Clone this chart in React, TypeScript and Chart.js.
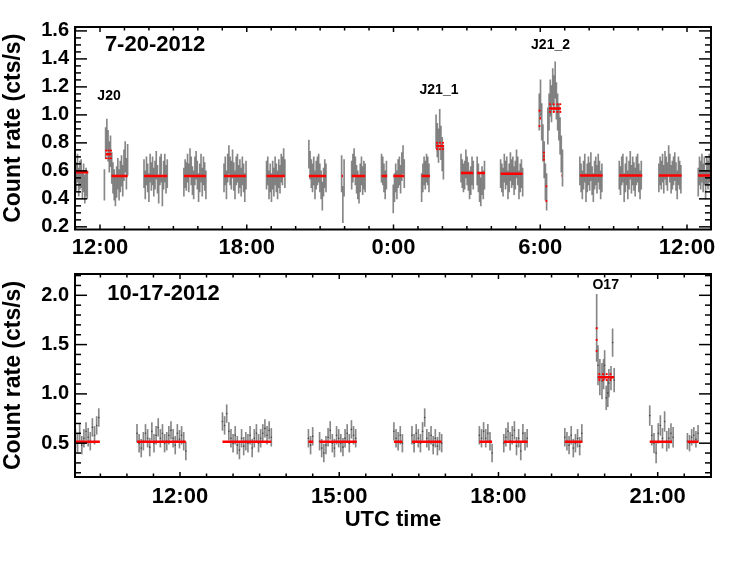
import React, { useEffect, useRef } from "react";
import { Chart, registerables } from "chart.js";

Chart.register(...registerables);

const FONT = "'Liberation Sans', Arial, Helvetica, sans-serif";

// ---------------- Axis ticks ----------------
const topXMajor = [12, 18, 24, 30, 36];
const topXLabels = ["12:00", "18:00", "0:00", "6:00", "12:00"];
const topXMinor = [11, 13, 14, 15, 16, 17, 19, 20, 21, 22, 23, 25, 26, 27, 28, 29, 31, 32, 33, 34, 35];
const topYMajor = [0.2, 0.4, 0.6, 0.8, 1.0, 1.2, 1.4, 1.6];
const topYMinor = [0.25, 0.3, 0.35, 0.45, 0.5, 0.55, 0.65, 0.7, 0.75, 0.85, 0.9, 0.95, 1.05, 1.1, 1.15, 1.25, 1.3, 1.35, 1.45, 1.5, 1.55];

const botXMajor = [12, 15, 18, 21];
const botXLabels = ["12:00", "15:00", "18:00", "21:00"];
const botXMinor = [10.5, 11, 11.5, 12.5, 13, 13.5, 14, 14.5, 15.5, 16, 16.5, 17, 17.5, 18.5, 19, 19.5, 20, 20.5, 21.5];
const botYMajor = [0.5, 1.0, 1.5, 2.0];
const botYMinor = [0.2, 0.3, 0.4, 0.6, 0.7, 0.8, 0.9, 1.1, 1.2, 1.3, 1.4, 1.6, 1.7, 1.8, 1.9, 2.1, 2.2];

// ---------------- Top panel (7-20-2012), 3-min bins, hours since 0:00 on 7-20 ----------------
const TOP_BIN = 0.05;
const topS1 = [0.60, 0.56, 0.62, 0.52, 0.57, 0.58, 0.50, 0.55, 0.47, 0.52, 0.50];
const topS2 = [0.50, 0.80, 0.86, 0.78, 0.70, 0.74, 0.62, 0.55, 0.50, 0.46, 0.52, 0.58, 0.50, 0.56, 0.60, 0.53, 0.64, 0.70, 0.58, 0.68];
const topS3 = [0.58, 0.50, 0.60, 0.55, 0.48, 0.62, 0.56, 0.60, 0.52, 0.57, 0.64, 0.54, 0.47, 0.60, 0.62, 0.45, 0.57, 0.62, 0.54, 0.58];
const topS4 = [0.52, 0.58, 0.56, 0.62, 0.55, 0.66, 0.60, 0.53, 0.50, 0.60, 0.64, 0.57, 0.48, 0.55, 0.62, 0.52, 0.60, 0.56, 0.50];
const topS5 = [0.55, 0.60, 0.50, 0.62, 0.68, 0.60, 0.57, 0.65, 0.56, 0.50, 0.60, 0.62, 0.54, 0.58, 0.52, 0.60, 0.55, 0.48, 0.57];
const topS6 = [0.57, 0.60, 0.50, 0.55, 0.48, 0.57, 0.52, 0.60, 0.55, 0.50, 0.58, 0.54, 0.62, 0.60, 0.66, 0.58];
const topS7 = [0.72, 0.64, 0.58, 0.55, 0.60, 0.50, 0.57, 0.60, 0.62, 0.55, 0.50, 0.42, 0.52, 0.58, 0.55];
const topS8a = [0.58, 0.36, 0.55];
const topS8b = [0.57, 0.62, 0.66, 0.60, 0.54, 0.50, 0.47, 0.55, 0.60, 0.53, 0.57, 0.55];
const topS9a = [0.62, 0.60, 0.55, 0.50, 0.57];
const topS9b = [0.40, 0.48, 0.55, 0.50, 0.58, 0.60, 0.54, 0.63, 0.68, 0.58];
const topS10 = [0.48, 0.55, 0.60, 0.57, 0.62, 0.60, 0.55];
const topS11 = [0.88, 0.82, 0.78, 0.92, 0.80, 0.72, 0.66];
const topS12 = [0.62, 0.58, 0.55, 0.57, 0.65, 0.60, 0.56, 0.50, 0.53, 0.60, 0.57];
const topS13 = [0.60, 0.55, 0.48, 0.45, 0.53, 0.50, 0.57];
const topS14 = [0.58, 0.55, 0.52, 0.62, 0.57, 0.60, 0.50, 0.55, 0.63, 0.58, 0.60, 0.53, 0.57, 0.65, 0.60, 0.50, 0.55, 0.58, 0.52];
const topS15 = [1.02, 1.12, 0.95, 0.80, 0.68, 0.52, 0.45, 0.92, 1.02, 1.12, 1.08, 1.20, 1.15, 1.25, 1.10, 1.02, 0.95, 0.85, 0.72, 0.62];
const topS16 = [0.60, 0.55, 0.50, 0.57, 0.62, 0.48, 0.55, 0.60, 0.56, 0.63, 0.53, 0.48, 0.57, 0.60, 0.54, 0.62, 0.57, 0.50, 0.55];
const topS17 = [0.57, 0.53, 0.60, 0.62, 0.48, 0.55, 0.60, 0.50, 0.57, 0.64, 0.54, 0.60, 0.56, 0.52, 0.60, 0.62, 0.55, 0.50, 0.57];
const topS18 = [0.55, 0.60, 0.57, 0.62, 0.54, 0.64, 0.60, 0.56, 0.68, 0.62, 0.54, 0.57, 0.60, 0.63, 0.56, 0.50, 0.60, 0.57, 0.54];
const topS19 = [0.52, 0.60, 0.57, 0.62, 0.55, 0.60, 0.50, 0.60, 0.57, 0.62, 0.55];

// [start hour, values, error half-width]
const topSegments: [number, number[], number][] = [
  [10.98, topS1, 0.1], [12.18, topS2, 0.11], [13.8, topS3, 0.1], [15.43, topS4, 0.1],
  [17.07, topS5, 0.1], [18.81, topS6, 0.1], [20.54, topS7, 0.1], [21.88, topS8a, 0.13],
  [22.29, topS8b, 0.1], [23.51, topS9a, 0.1], [23.99, topS9b, 0.1], [25.15, topS10, 0.1],
  [25.74, topS11, 0.12], [26.76, topS12, 0.1], [27.42, topS13, 0.1], [28.38, topS14, 0.1],
  [29.96, topS15, 0.13], [31.62, topS16, 0.1], [33.23, topS17, 0.1], [34.85, topS18, 0.1],
  [36.46, topS19, 0.1],
];

// red block levels: [start, end, level]
const topBlocks: [number, number, number][] = [
  [10.98, 11.52, 0.59], [12.23, 12.47, 0.718], [12.47, 13.13, 0.563], [13.8, 14.75, 0.563],
  [15.43, 16.33, 0.563], [17.07, 17.97, 0.563], [18.81, 19.56, 0.563], [20.54, 21.24, 0.563],
  [21.88, 21.93, 0.563], [22.29, 22.84, 0.563], [23.51, 23.74, 0.563], [23.99, 24.44, 0.563],
  [25.15, 25.49, 0.563], [25.74, 26.06, 0.778], [26.76, 27.26, 0.584], [27.42, 27.74, 0.584],
  [28.38, 29.28, 0.58], [29.97, 30.03, 0.976], [30.12, 30.18, 0.704], [30.24, 30.27, 0.437],
  [30.36, 30.85, 1.045], [30.87, 30.89, 0.567], [31.62, 32.55, 0.567], [33.23, 34.17, 0.567],
  [34.85, 35.78, 0.567], [36.46, 36.98, 0.567],
];
const topBlockErrX = [12.25, 12.35, 12.45, 12.25, 12.35, 12.45, 25.78, 25.9, 26.02, 25.78, 25.9, 26.02, 29.97, 29.97, 30.15, 30.15, 30.25, 30.25, 30.4, 30.55, 30.7, 30.82, 30.4, 30.55, 30.7, 30.82];
const topBlockErrY = [0.745, 0.745, 0.745, 0.69, 0.69, 0.69, 0.80, 0.80, 0.80, 0.755, 0.755, 0.755, 1.03, 0.92, 0.73, 0.68, 0.49, 0.384, 1.076, 1.076, 1.076, 1.076, 1.021, 1.021, 1.021, 1.021];

// ---------------- Bottom panel (10-17-2012), 2.4-min bins ----------------
const BOT_BIN = 0.04;
const botB1 = [0.55, 0.50, 0.60, 0.48, 0.55, 0.62, 0.56, 0.52, 0.66, 0.58, 0.68, 0.76];
const botB2 = [0.60, 0.50, 0.45, 0.52, 0.60, 0.55, 0.46, 0.62, 0.50, 0.58, 0.66, 0.55, 0.60, 0.50, 0.52, 0.58, 0.63, 0.55, 0.48, 0.60, 0.54, 0.58, 0.52, 0.42];
const botB3 = [0.72, 0.68, 0.80, 0.62, 0.55, 0.50, 0.58, 0.48, 0.43, 0.55, 0.47, 0.52, 0.50, 0.58, 0.45, 0.55, 0.60, 0.50, 0.55, 0.60, 0.65, 0.58, 0.63, 0.56];
const botB4a = [0.55, 0.48, 0.57];
const botB4b = [0.52, 0.45, 0.40, 0.48, 0.56, 0.63, 0.50, 0.45, 0.58, 0.55, 0.50, 0.46, 0.55, 0.60, 0.50, 0.64, 0.58, 0.55];
const botB5a = [0.62, 0.55, 0.52, 0.58, 0.50];
const botB5b = [0.58, 0.50, 0.60, 0.55, 0.50, 0.62, 0.76, 0.55, 0.52, 0.58, 0.48, 0.55, 0.47, 0.52, 0.50];
const botB6a = [0.58, 0.55, 0.62, 0.55, 0.60, 0.52, 0.40];
const botB6b = [0.50, 0.56, 0.62, 0.52, 0.58, 0.63, 0.47, 0.55, 0.42, 0.60, 0.52, 0.55];
const botB7 = [0.56, 0.52, 0.48, 0.58, 0.45, 0.50, 0.55, 0.47, 0.60];
const botB9 = [0.78, 0.58, 0.50, 0.40, 0.60, 0.68, 0.55, 0.72, 0.52, 0.55, 0.60, 0.56];
const botB10 = [0.52, 0.50, 0.56, 0.58, 0.54, 0.60];
// O17 flare, individual bins
const flareT = [19.85, 19.875, 19.91, 19.95, 19.98, 20.0, 20.03, 20.06, 20.08, 20.12, 20.15, 20.18];
const flareV = [1.67, 1.29, 1.17, 1.13, 1.20, 1.29, 0.96, 1.01, 1.11, 1.16, 1.52, 1.14];
const flareE = [0.34, 0.20, 0.18, 0.18, 0.15, 0.15, 0.12, 0.14, 0.14, 0.12, 0.14, 0.12];

const botSegments: [number, number[], number][] = [
  [10.03, botB1, 0.09], [11.19, botB2, 0.09], [12.8, botB3, 0.09], [14.42, botB4a, 0.09],
  [14.63, botB4b, 0.09], [16.03, botB5a, 0.09], [16.37, botB5b, 0.09], [17.64, botB6a, 0.09],
  [18.1, botB6b, 0.09], [19.25, botB7, 0.09], [20.85, botB9, 0.1], [21.56, botB10, 0.08],
];
const botBlocks: [number, number, number][] = [
  [10.02, 10.49, 0.515], [11.19, 12.11, 0.515], [12.8, 13.72, 0.515], [14.42, 14.51, 0.515],
  [14.63, 15.33, 0.515], [16.03, 16.19, 0.515], [16.37, 16.93, 0.515], [17.64, 17.88, 0.515],
  [18.1, 18.55, 0.515], [19.25, 19.58, 0.515], [19.87, 20.18, 1.168], [20.85, 21.27, 0.515],
  [21.56, 21.77, 0.515],
];
const botBlockErrX = [19.85, 19.85, 19.85, 19.9, 19.97, 20.04, 20.11, 19.9, 19.97, 20.04, 20.11];
const botBlockErrY = [1.665, 1.547, 1.435, 1.2, 1.2, 1.2, 1.2, 1.14, 1.14, 1.14, 1.14];

// ---------------- helpers ----------------
type Pt = { x: number; y: any };
function barsFromSegments(segs: [number, number[], number][], bin: number): Pt[] {
  const out: Pt[] = [];
  segs.forEach(([start, vals, err]) => vals.forEach((v, i) => out.push({ x: start + i * bin, y: [v - err, v + err] })));
  return out;
}
function centersFromSegments(segs: [number, number[], number][], bin: number): Pt[] {
  const out: Pt[] = [];
  segs.forEach(([start, vals]) => vals.forEach((v, i) => out.push({ x: start + i * bin, y: v })));
  return out;
}
function blockLine(blocks: [number, number, number][]): Pt[] {
  const out: Pt[] = [];
  blocks.forEach(([a, b, v]) => {
    out.push({ x: a, y: v }, { x: b, y: v }, { x: b, y: null });
  });
  return out;
}
function pairs(xs: number[], ys: number[]): Pt[] {
  return xs.map((x, i) => ({ x, y: ys[i] }));
}

const framePlugin = {
  id: "frame",
  afterDraw(chart: any, _args: any, o: any) {
    const { ctx, chartArea: a, scales } = chart;
    const xs = scales.x, ys = scales.y;
    ctx.save();
    ctx.strokeStyle = "#000";
    ctx.lineWidth = 1.5;
    const ln = (x1: number, y1: number, x2: number, y2: number) => {
      ctx.beginPath(); ctx.moveTo(x1, y1); ctx.lineTo(x2, y2); ctx.stroke();
    };
    const xt = (vals: number[], len: number) => vals.forEach((v) => {
      const p = xs.getPixelForValue(v);
      ln(p, a.bottom, p, a.bottom - len); ln(p, a.top, p, a.top + len);
    });
    const yt = (vals: number[], len: number) => vals.forEach((v) => {
      const p = ys.getPixelForValue(v);
      ln(a.left, p, a.left + len, p); ln(a.right, p, a.right - len, p);
    });
    xt(o.xMajor, 5); xt(o.xMinor, 3.5);
    yt(o.yMajor, 12); yt(o.yMinor, 6);
    ctx.lineWidth = 2;
    ctx.strokeRect(a.left, a.top, a.right - a.left, a.bottom - a.top);
    ctx.fillStyle = "#000";
    ctx.textBaseline = "middle";
    (o.texts || []).forEach((t: any) => {
      ctx.font = `bold ${t.size}px ${FONT}`;
      ctx.textAlign = t.align;
      ctx.fillText(t.text, xs.getPixelForValue(t.x), ys.getPixelForValue(t.y));
    });
    ctx.restore();
  },
};

function makeConfig(p: any) {
  return {
    type: "bar",
    data: {
      datasets: [
        { type: "bar", data: p.bars, backgroundColor: "rgba(105,105,105,0.8)", barThickness: 1, grouped: false, borderWidth: 0, order: 4 },
        { type: "line", data: p.centers, showLine: false, pointRadius: p.dotR, pointBackgroundColor: "#444", pointBorderWidth: 0, order: 3 },
        { type: "line", data: p.blocks, borderColor: "#ff0000", borderWidth: 2.5, pointRadius: 0, spanGaps: false, order: 2 },
        { type: "line", data: p.blockErr, showLine: false, pointRadius: 1.1, pointBackgroundColor: "#ff0000", pointBorderWidth: 0, order: 1 },
      ],
    },
    options: {
      animation: false,
      responsive: false,
      events: [],
      layout: { padding: { left: 0, right: 36, top: p.padTop, bottom: 0 } },
      plugins: {
        legend: { display: false },
        tooltip: { enabled: false },
        frame: { xMajor: p.xMajor, xMinor: p.xMinor, yMajor: p.yMajor, yMinor: p.yMinor, texts: p.texts },
      },
      scales: {
        x: {
          type: "linear", min: p.xMin, max: p.xMax, offset: false,
          grid: { display: false, drawTicks: false }, border: { display: false },
          afterBuildTicks: (s: any) => { s.ticks = p.xMajor.map((v: number) => ({ value: v })); },
          afterFit: (s: any) => { s.height = p.xHeight; },
          ticks: {
            callback: (v: any) => p.xLabels[p.xMajor.indexOf(Number(v))],
            font: { family: FONT, size: 22, weight: "bold" }, color: "#000",
            padding: p.xPad, maxRotation: 0, autoSkip: false,
          },
          title: p.xTitle
            ? { display: true, text: p.xTitle, color: "#000", font: { family: FONT, size: 22, weight: "bold" }, padding: { top: 0, bottom: 28 } }
            : { display: false },
        },
        y: {
          type: "linear", min: p.yMin, max: p.yMax,
          grid: { display: false, drawTicks: false }, border: { display: false },
          afterBuildTicks: (s: any) => { s.ticks = p.yMajor.map((v: number) => ({ value: v })); },
          afterFit: (s: any) => { s.width = 75; },
          ticks: {
            callback: (v: any) => Number(v).toFixed(1),
            font: { family: FONT, size: 20, weight: "bold" }, color: "#000", padding: 6, autoSkip: false,
          },
          title: { display: true, text: "Count rate (cts/s)", color: "#000", font: { family: FONT, size: 23, weight: "bold" }, padding: { top: 0, bottom: 0 } },
        },
      },
    },
    plugins: [framePlugin],
  };
}

export default function App() {
  const topRef = useRef<HTMLCanvasElement>(null);
  const botRef = useRef<HTMLCanvasElement>(null);

  useEffect(() => {
    const top = new Chart(topRef.current as any, makeConfig({
      bars: barsFromSegments(topSegments, TOP_BIN),
      centers: centersFromSegments(topSegments, TOP_BIN),
      blocks: blockLine(topBlocks),
      blockErr: pairs(topBlockErrX, topBlockErrY),
      xMajor: topXMajor, xMinor: topXMinor, xLabels: topXLabels,
      yMajor: topYMajor, yMinor: topYMinor,
      xMin: 10.978, xMax: 36.981, yMin: 0.181, yMax: 1.628,
      padTop: 27, xHeight: 35.5, xPad: 5, dotR: 0,
      texts: [
        { text: "7-20-2012", x: 12.2, y: 1.499, size: 22, align: "left" },
        { text: "J20", x: 12.37, y: 1.134, size: 14, align: "center" },
        { text: "J21_1", x: 25.86, y: 1.177, size: 14, align: "center" },
        { text: "J21_2", x: 30.42, y: 1.499, size: 14, align: "center" },
      ],
    }) as any);

    const flareBars = flareT.map((t, i) => ({ x: t, y: [flareV[i] - flareE[i], flareV[i] + flareE[i]] }));
    const flareCenters = pairs(flareT, flareV);
    const bot = new Chart(botRef.current as any, makeConfig({
      bars: barsFromSegments(botSegments, BOT_BIN).concat(flareBars),
      centers: centersFromSegments(botSegments, BOT_BIN).concat(flareCenters),
      blocks: blockLine(botBlocks),
      blockErr: pairs(botBlockErrX, botBlockErrY),
      xMajor: botXMajor, xMinor: botXMinor, xLabels: botXLabels,
      yMajor: botYMajor, yMinor: botYMinor,
      xMin: 10.022, xMax: 22.004, yMin: 0.157, yMax: 2.216,
      padTop: 24, xHeight: 84, xPad: 7, xTitle: "UTC time", dotR: 0.8,
      texts: [
        { text: "10-17-2012", x: 10.63, y: 2.013, size: 22, align: "left" },
        { text: "O17", x: 20.02, y: 2.101, size: 14, align: "center" },
      ],
    }) as any);

    return () => { top.destroy(); bot.destroy(); };
  }, []);

  return (
    <div style={{ position: "absolute", left: 0, top: 0, width: 747, height: 561, background: "#fff" }}>
      <canvas ref={botRef} width={747} height={311} style={{ position: "absolute", left: 0, top: 250, display: "block" }} />
      <canvas ref={topRef} width={747} height={265} style={{ position: "absolute", left: 0, top: 0, display: "block" }} />
    </div>
  );
}
